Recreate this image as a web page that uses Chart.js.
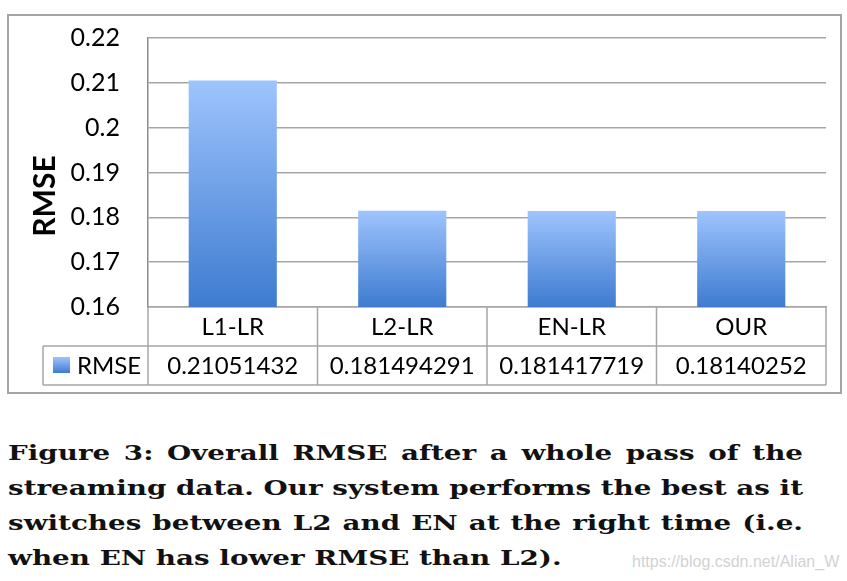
<!DOCTYPE html>
<html>
<head>
<meta charset="utf-8">
<script src="https://cdn.jsdelivr.net/npm/chart.js@4.4.0/dist/chart.umd.min.js"></script>
<style>
  body { margin: 0; background: #fff; width: 847px; height: 581px; overflow: hidden; position: relative; }
  #wrap { position: absolute; left: 0; top: 0; width: 847px; height: 400px; }
  #frame { position: absolute; left: 7px; top: 14px; width: 831px; height: 376px; border: 2px solid #a5a5a5; pointer-events: none; }
  #caption { position: absolute; left: 8px; top: 435px; width: 796px; font-family: "DejaVu Serif", serif; font-weight: bold; font-size: 21px; color: #111; transform-origin: 0 0; }
  .line { height: 35px; line-height: 35px; white-space: nowrap; text-align: justify; text-align-last: justify; }
  .line.last { text-align-last: left; }
  #mark { position: absolute; left: 632px; top: 553px; font-family: "Liberation Sans", Arial, sans-serif; font-size: 16px; color: #d2d2d2; }
</style>
</head>
<body>
<div id="wrap"><canvas id="RmseChart" width="847" height="400"></canvas></div>
<div id="frame"></div>
<div id="caption">
  <div class="line"><span>Figure 3: Overall RMSE after a whole pass of the</span></div>
  <div class="line"><span>streaming data. Our system performs the best as it</span></div>
  <div class="line"><span>switches between L2 and EN at the right time (i.e.</span></div>
  <div class="line last"><span>when EN has lower RMSE than L2).</span></div>
</div>
<div id="mark">https://blog.csdn.net/Alian_W</div>
<script>
const categories = ['L1-LR', 'L2-LR', 'EN-LR', 'OUR'];
const rmseValues = [0.21051432, 0.181494291, 0.181417719, 0.18140252];
const seriesName = 'RMSE';
const yMin = 0.16, yMax = 0.22, yStep = 0.01;

const FONT = 'Lato, "Open Sans", sans-serif';
const LINE = '#a6a6a6';

// stretch the caption sideways so the widest line fills the text width, like the wide TeX bold
(function fitCaption() {
    const cap = document.getElementById('caption');
    const lines = cap.querySelectorAll('.line');
    let widest = 0;
    lines.forEach(l => {
        l.style.textAlignLast = 'left';
        widest = Math.max(widest, l.querySelector('span').getBoundingClientRect().width);
        l.style.textAlignLast = '';
    });
    const target = 795;
    const s = target / widest;
    cap.style.width = (target / s) + 'px';
    cap.style.transform = 'scaleX(' + s + ')';
})();

function barGradient(ctx, top, bottom) {
    const g = ctx.createLinearGradient(0, top, 0, bottom);
    g.addColorStop(0, '#9ec4fd');
    g.addColorStop(1, '#3e7bd0');
    return g;
}

// data table under the plot + rotated axis title
const tablePlugin = {
    id: 'dataTable',
    afterDraw(chart) {
        const ctx = chart.ctx;
        const x = chart.scales.x;
        const area = chart.chartArea;
        const rowH = 39;
        const top = area.bottom;
        const mid = top + rowH;
        const bot = top + rowH * 2;
        const legendLeft = 43;
        const half = (x.getPixelForTick(1) - x.getPixelForTick(0)) / 2;

        ctx.save();
        ctx.strokeStyle = LINE;
        ctx.lineWidth = 1.5;
        ctx.beginPath();
        ctx.moveTo(legendLeft, mid); ctx.lineTo(area.right, mid);
        ctx.moveTo(legendLeft, bot); ctx.lineTo(area.right, bot);
        ctx.moveTo(legendLeft, mid); ctx.lineTo(legendLeft, bot);
        for (let i = 0; i <= categories.length; i++) {
            const px = i < categories.length ? x.getPixelForTick(i) - half : x.getPixelForTick(i - 1) + half;
            ctx.moveTo(px, top); ctx.lineTo(px, bot);
        }
        ctx.stroke();

        ctx.fillStyle = '#000';
        ctx.font = '24px ' + FONT;
        ctx.textAlign = 'center';
        ctx.textBaseline = 'middle';
        categories.forEach((c, i) => {
            const px = x.getPixelForTick(i);
            ctx.fillText(c, px, top + rowH / 2 + 1);
            ctx.fillText(String(rmseValues[i]), px, mid + rowH / 2 + 1);
        });

        // legend key
        ctx.fillStyle = barGradient(ctx, mid + 11, mid + 27);
        ctx.fillRect(53, mid + 11, 17, 16);
        ctx.fillStyle = '#000';
        ctx.textAlign = 'left';
        ctx.fillText(seriesName, 77, mid + rowH / 2 + 1);

        // axis title
        ctx.translate(45, 196);
        ctx.rotate(-Math.PI / 2);
        ctx.font = 'bold 30px ' + FONT;
        ctx.textAlign = 'center';
        ctx.fillText(seriesName, 0, 0);
        ctx.restore();
    }
};

new Chart(document.getElementById('RmseChart').getContext('2d'), {
    type: 'bar',
    data: {
        labels: categories,
        datasets: [{
            label: seriesName,
            data: rmseValues,
            backgroundColor: context => {
                const chart = context.chart;
                if (!chart.chartArea || context.parsed === undefined) return '#6a9ee8';
                const y = chart.scales.y;
                return barGradient(chart.ctx, y.getPixelForValue(context.parsed.y), y.getPixelForValue(yMin));
            },
            borderWidth: 0,
            barPercentage: 0.52,
            categoryPercentage: 1.0
        }]
    },
    options: {
        responsive: false,
        animation: false,
        layout: { padding: { top: 38, right: 21, left: 0, bottom: 0 } },
        plugins: {
            legend: { display: false },
            tooltip: { enabled: false }
        },
        scales: {
            x: {
                afterFit: scale => { scale.height = 93; },
                ticks: { display: false },
                grid: { display: false },
                border: { display: true, color: LINE, width: 1.5 }
            },
            y: {
                min: yMin,
                max: yMax,
                afterFit: scale => {
                    scale.width = 148;
                    // tick padding otherwise gets added to the top inset
                    scale.paddingTop = 0;
                    scale.paddingBottom = 0;
                },
                ticks: {
                    stepSize: yStep,
                    padding: 28,
                    color: '#000',
                    font: { family: FONT, size: 25 },
                    callback: v => String(+v.toFixed(2))
                },
                grid: { color: LINE, lineWidth: 1.5, drawTicks: false },
                border: { display: true, color: '#8c8c8c', width: 1.5 }
            }
        }
    },
    plugins: [tablePlugin]
});
</script>
</body>
</html>
